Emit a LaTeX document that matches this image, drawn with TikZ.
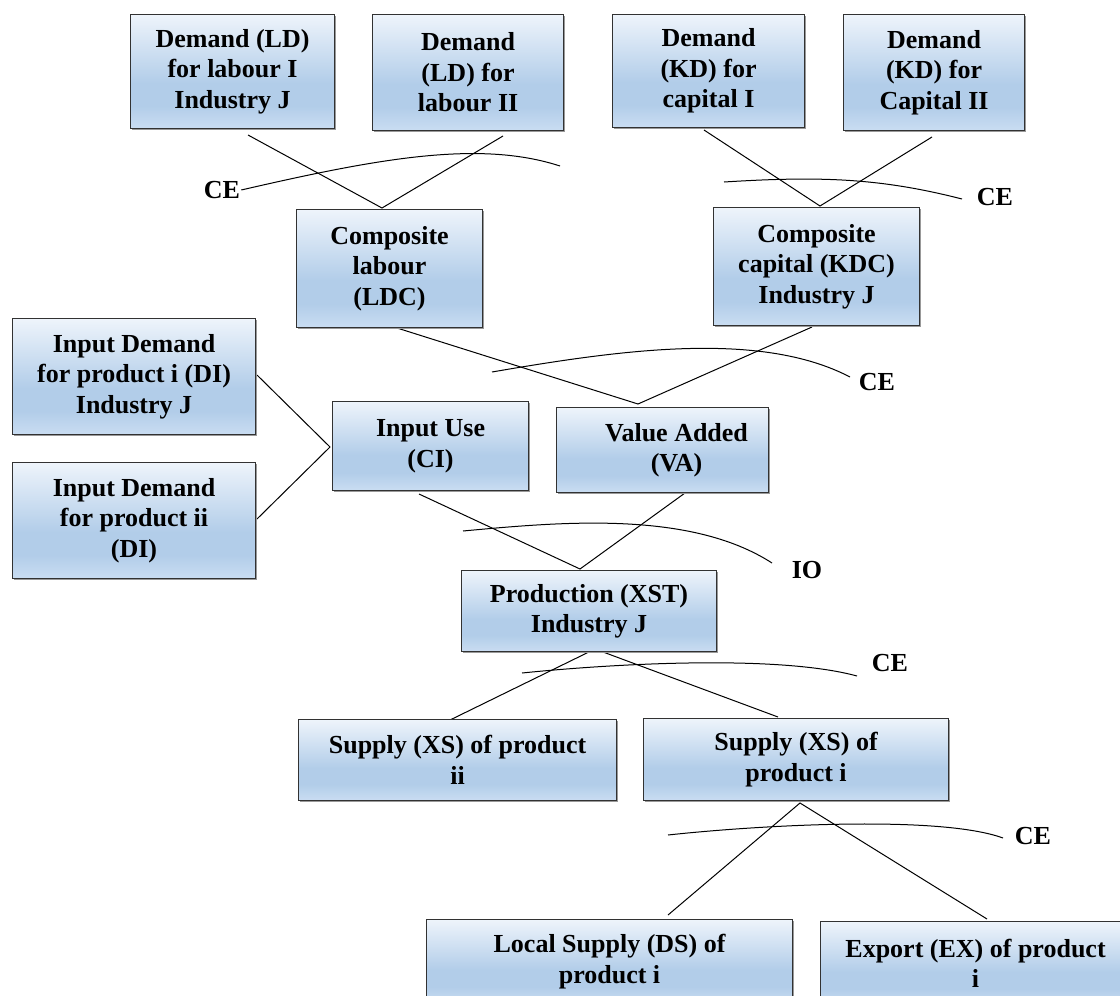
\documentclass[tikz,border=0pt]{standalone}
\usepackage{fontspec}
\setmainfont{Liberation Serif}
\usetikzlibrary{shadows,backgrounds}
\definecolor{btop}{RGB}{238,244,251}
\definecolor{bmid}{RGB}{178,205,233}
\definecolor{bbot}{RGB}{202,221,242}
\definecolor{bframe}{RGB}{50,50,50}
\pgfdeclareverticalshading{boxgrad}{100bp}{color(0bp)=(bbot); color(25bp)=(bbot); color(35bp)=(bmid); color(45bp)=(bmid); color(75bp)=(btop); color(100bp)=(btop)}
\begin{document}
\begin{tikzpicture}[x=1pt,y=-1pt,
  box/.style={draw=bframe, line width=1.1pt, shading=boxgrad, anchor=north west, inner sep=0pt, align=center,
    font=\fontsize{26}{30.5}\selectfont\bfseries,
    drop shadow={shadow xshift=1.6pt, shadow yshift=-1.6pt, fill=black!40, opacity=1}},
  lab/.style={font=\fontsize{26}{30.5}\selectfont\bfseries, inner sep=1pt},
  conn/.style={draw=black, line width=1pt},
]
\useasboundingbox (0,0) rectangle (1120,996);
\clip (0,0) rectangle (1120,996);

% boxes
\node[box, minimum width=204pt, minimum height=114pt] (ld1) at (130,14) {Demand (LD)\\for labour I\\Industry J};
\node[box, minimum width=191pt, minimum height=116pt] (ld2) at (372,14) {Demand\\(LD) for\\labour II};
\node[box, minimum width=192pt, minimum height=113pt] (kd1) at (612,14) {Demand\\(KD) for\\capital I};
\node[box, minimum width=181pt, minimum height=116pt] (kd2) at (843,14) {Demand\\(KD) for\\Capital II};
\node[box, minimum width=186pt, minimum height=118pt] (ldc) at (296,209) {Composite\\labour\\(LDC)};
\node[box, minimum width=206pt, minimum height=118pt] (kdc) at (713,207) {Composite\\capital (KDC)\\Industry J};
\node[box, minimum width=243pt, minimum height=116pt] (di1) at (12,318) {Input Demand\\for product i (DI)\\Industry J};
\node[box, minimum width=243pt, minimum height=116pt] (di2) at (12,462) {Input Demand\\for product ii\\(DI)};
\node[box, minimum width=196pt, minimum height=89pt] (ci) at (332,401) {Input Use\\(CI)};
\node[box, minimum width=212pt, minimum height=85pt] (va) at (556,407) {\hspace*{28pt}Value Added\\\hspace*{28pt}(VA)};
\node[box, minimum width=255pt, minimum height=81pt] (xst) at (461,570) {Production (XST)\\Industry J};
\node[box, minimum width=318pt, minimum height=81pt] (xs2) at (298,719) {Supply (XS) of product\\ii};
\node[box, minimum width=305pt, minimum height=82pt] (xs1) at (643,718) {Supply (XS) of\\product i};
\node[box, minimum width=366pt, minimum height=84pt] (ds) at (426,919) {Local Supply (DS) of\\product i};
\node[box, minimum width=310pt, minimum height=84pt] (ex) at (820,921) {Export (EX) of product\\i};

% labels
\node[lab] (ce1) at (222,190) {CE};
\node[lab] (ce2) at (995,197) {CE};
\node[lab] (ce3) at (877,382) {CE};
\node[lab] (io)  at (807,570) {IO};
\node[lab] (ce4) at (890,663) {CE};
\node[lab] (ce5) at (1033,836) {CE};

% connector end points
\coordinate (ld1b) at (248,135);
\coordinate (ld2b) at (503,136);
\coordinate (ldct) at (382,208);
\coordinate (kd1b) at (704,130);
\coordinate (kd2b) at (932,137);
\coordinate (kdct) at (820,206);
\coordinate (ldcb) at (397,328);
\coordinate (kdcb) at (812,327);
\coordinate (vat) at (638,404);
\coordinate (di1r) at (257,375);
\coordinate (di2r) at (257,519);
\coordinate (cil) at (330,447);
\coordinate (cib) at (419,494);
\coordinate (vab) at (685,493);
\coordinate (xstt) at (580,569);
\coordinate (xstb) at (595,649);
\coordinate (xs2t) at (448,721);
\coordinate (xs1t) at (778,717);
\coordinate (xs1b) at (800,803);
\coordinate (dst) at (668,915);
\coordinate (ext) at (987,919);
% curve end points
\coordinate (c1e) at (560,166);
\coordinate (c2s) at (724,182);
\coordinate (c2e) at (962,199);
\coordinate (c3s) at (492,372);
\coordinate (c3e) at (850,377);
\coordinate (c4s) at (463,531);
\coordinate (c4e) at (772,563);
\coordinate (c5s) at (522,673);
\coordinate (c5e) at (857,676);
\coordinate (c6s) at (668,835);
\coordinate (c6e) at (1003,838);

\begin{pgfonlayer}{background}
\draw[conn] (ld1b) -- (ldct) -- (ld2b);
\draw[conn] (kd1b) -- (kdct) -- (kd2b);
\draw[conn] (ldcb) -- (vat) -- (kdcb);
\draw[conn] (di1r) -- (cil) -- (di2r);
\draw[conn] (cib) -- (xstt) -- (vab);
\draw[conn] (xs2t) -- (xstb) -- (xs1t);
\draw[conn] (dst) -- (xs1b) -- (ext);
\end{pgfonlayer}

\draw[conn] (ce1.east) .. controls (380,158) and (480,140) .. (c1e);
\draw[conn] (c2s) .. controls (820,176) and (880,178) .. (c2e);
\draw[conn] (c3s) .. controls (620,350) and (760,330) .. (c3e);
\draw[conn] (c4s) .. controls (560,522) and (690,510) .. (c4e);
\draw[conn] (c5s) .. controls (620,663) and (780,655) .. (c5e);
\draw[conn] (c6s) .. controls (760,825) and (940,815) .. (c6e);
\end{tikzpicture}
\end{document}
